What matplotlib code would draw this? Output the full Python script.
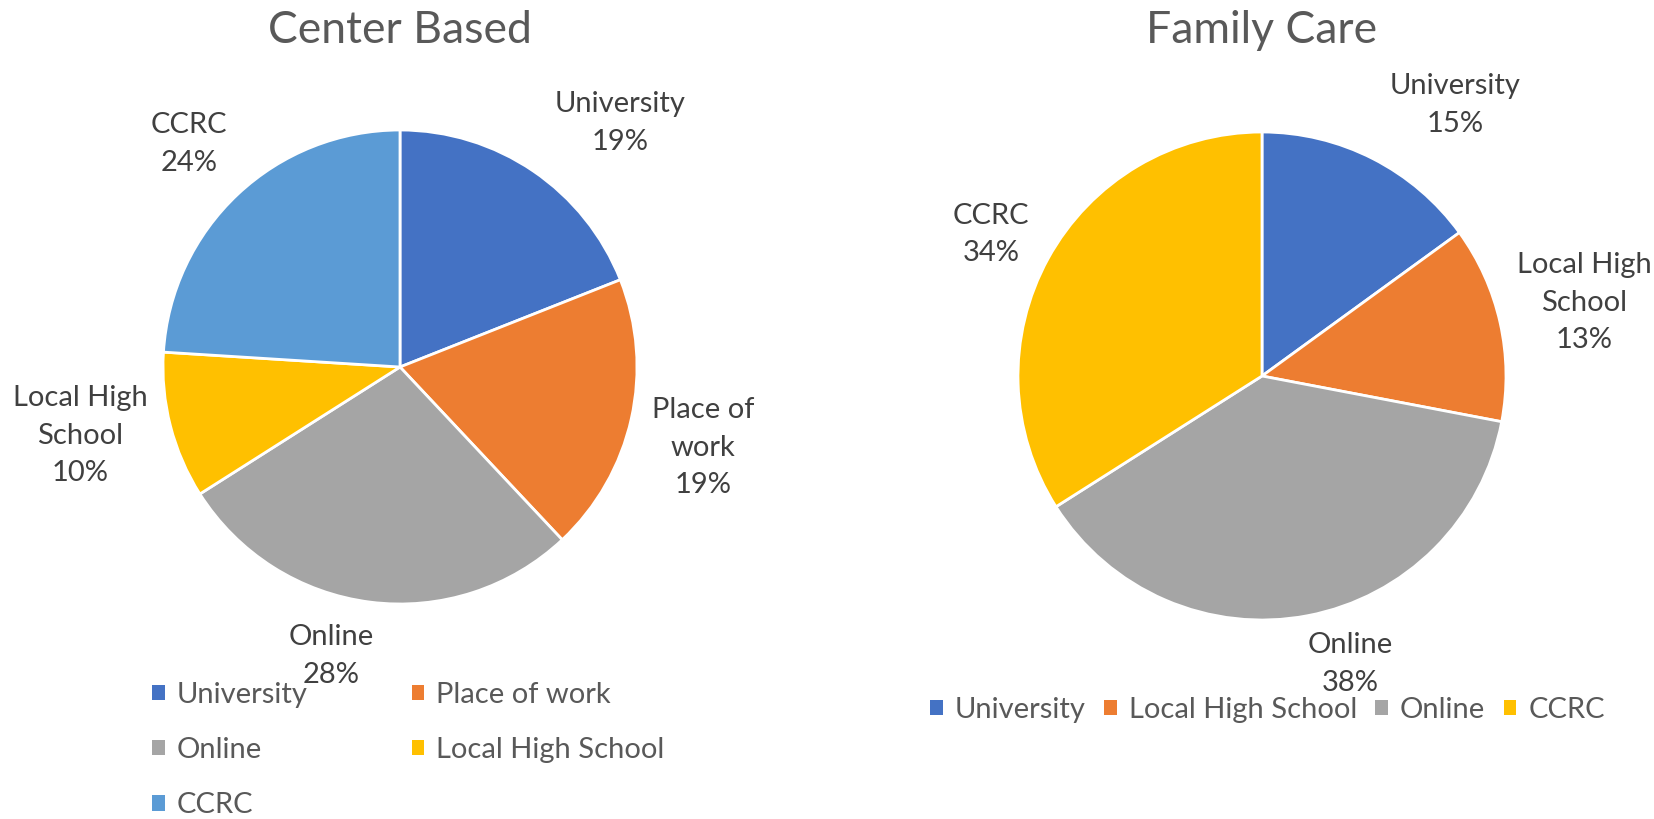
import matplotlib
matplotlib.use("Agg")
import matplotlib.pyplot as plt
from matplotlib.patches import Patch

plt.rcParams['font.family'] = ['Lato', 'DejaVu Sans']

# ---- data ----
left_title = "Center Based"
left_cats = ["University", "Place of work", "Online", "Local High School", "CCRC"]
left_labels = ["University", "Place of\nwork", "Online", "Local High\nSchool", "CCRC"]
left_vals = [19, 19, 28, 10, 24]

right_title = "Family Care"
right_cats = ["University", "Local High School", "Online", "CCRC"]
right_labels = ["University", "Local High\nSchool", "Online", "CCRC"]
right_vals = [15, 13, 38, 34]

left_colors = ["#4472C4", "#ED7D31", "#A5A5A5", "#FFC000", "#5B9BD5"]
right_colors = ["#4472C4", "#ED7D31", "#A5A5A5", "#FFC000"]

# label positions in pie-radius units (layout)
left_lpos = [(0.93, 1.03), (1.28, -0.34), (-0.29, -1.22), (-1.35, -0.29), (-0.89, 0.94)]
right_lpos = [(0.79, 1.11), (1.32, 0.30), (0.36, -1.18), (-1.11, 0.58)]

W, H = 1654, 819
fig = plt.figure(figsize=(W / 100, H / 100), dpi=100)

label_color = "#404040"
title_color = "#595959"
FS = 21


def draw_pie(cx, cy, R, vals, colors, labels, lpos, title):
    ax = fig.add_axes([0, 0, 1, 1])
    ax.pie(vals, colors=colors, startangle=90, counterclock=False,
           wedgeprops=dict(edgecolor="white", linewidth=2.0))
    ax.set_aspect('auto')
    ax.set_xlim(-cx / R, (W - cx) / R)
    ax.set_ylim(-(H - cy) / R, cy / R)
    ax.set_axis_off()
    for lab, v, (x, y) in zip(labels, vals, lpos):
        ax.text(x, y, f"{lab}\n{v}%", ha="center", va="center", fontsize=FS,
                color=label_color, linespacing=1.55)
    fig.text(cx / W, 1 - 43 / H, title, ha="center", va="baseline",
             fontsize=32, color=title_color)
    return ax


draw_pie(400, 367, 237, left_vals, left_colors, left_labels, left_lpos, left_title)
draw_pie(1262, 376, 244, right_vals, right_colors, right_labels, right_lpos, right_title)

# legends
lh = [Patch(facecolor=c, edgecolor="none") for c in left_colors]
order = [0, 2, 4, 1, 3]
leg1 = fig.legend([lh[i] for i in order], [left_cats[i] for i in order],
                  loc="upper left", bbox_to_anchor=(152 / W, 1 - 682 / H),
                  ncol=2, frameon=False, fontsize=FS, handlelength=0.43,
                  handleheight=0.43, handletextpad=0.41, columnspacing=3.58,
                  labelspacing=1.0, borderaxespad=0, borderpad=0)
for t in leg1.get_texts():
    t.set_color(title_color)

rh = [Patch(facecolor=c, edgecolor="none") for c in right_colors]
leg2 = fig.legend(rh, right_cats, loc="upper left",
                  bbox_to_anchor=(930 / W, 1 - 697 / H), ncol=4, frameon=False,
                  fontsize=FS, handlelength=0.43, handleheight=0.43,
                  handletextpad=0.41, columnspacing=0.64,
                  borderaxespad=0, borderpad=0)
for t in leg2.get_texts():
    t.set_color(title_color)

fig.savefig("out.png", dpi=100)
